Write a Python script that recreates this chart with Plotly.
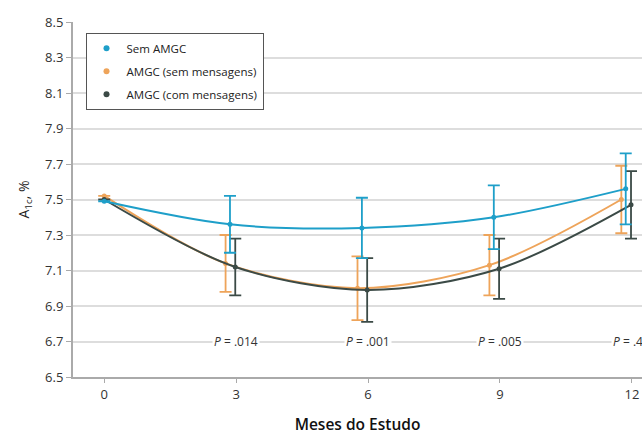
import plotly.graph_objects as go

months = [0, 3, 6, 9, 12]
series_names = ["Sem AMGC", "AMGC (sem mensagens)", "AMGC (com mensagens)"]
sem_amgc = [7.49, 7.36, 7.34, 7.40, 7.56]
sem_amgc_err = [0.0, 0.16, 0.17, 0.18, 0.20]
amgc_sem_msg = [7.52, 7.14, 7.00, 7.13, 7.50]
amgc_sem_msg_err = [0.0, 0.16, 0.18, 0.17, 0.19]
amgc_com_msg = [7.50, 7.12, 6.99, 7.11, 7.47]
amgc_com_msg_err = [0.0, 0.16, 0.18, 0.17, 0.19]
p_labels = [".014", ".001", ".005", ".48"]
p_months = [3, 6, 9, 12]
y_ticks = [6.5, 6.7, 6.9, 7.1, 7.3, 7.5, 7.7, 7.9, 8.1, 8.3, 8.5]

colors = ["#1e9fc9", "#eea45a", "#3b4a46"]
offsets = [-0.14, -0.24, -0.02]

fig = go.Figure()
data = [(sem_amgc, sem_amgc_err), (amgc_sem_msg, amgc_sem_msg_err), (amgc_com_msg, amgc_com_msg_err)]
order = [1, 2, 0]
for i in order:
    vals, errs = data[i]
    xs = [m + (offsets[i] if m > 0 else 0) for m in months]
    fig.add_trace(go.Scatter(
        x=xs, y=vals, mode="lines+markers", line=dict(color=colors[i], width=2, shape="spline", smoothing=0.9),
        marker=dict(size=5, color=colors[i]),
        error_y=dict(type="data", array=errs, visible=True, color=colors[i], thickness=1.8, width=6),
        showlegend=False, hoverinfo="skip"))
for i in range(3):
    fig.add_trace(go.Scatter(x=[None], y=[None], mode="markers", name=series_names[i],
                             legendgroup="g%d" % i,
                             marker=dict(size=6, color=colors[i])))

for m, p in zip(p_months, p_labels):
    fig.add_annotation(x=m, y=6.7, text="<i>P</i> = " + p, showarrow=False,
                       font=dict(size=12, color="#333333", family="Open Sans"), bgcolor="white")

fig.update_layout(
    width=642, height=436,
    margin=dict(l=73, r=0, t=22, b=59),
    plot_bgcolor="white", paper_bgcolor="white",
    font=dict(family="Open Sans", color="#333333"),
    legend=dict(x=0.022, y=0.97, xanchor="left", yanchor="top", bordercolor="#555555", borderwidth=1,
                font=dict(size=11.5, color="#222222"), bgcolor="white", itemwidth=30, tracegroupgap=4),
    xaxis=dict(range=[-0.71, 12.23], tickvals=months, ticks="outside", ticklen=4, tickcolor="#aaaaaa",
               showgrid=False, showline=True, linecolor="#aaaaaa", linewidth=2, zeroline=False,
               tickfont=dict(size=13, color="#333333"),
               title=dict(text="Meses do Estudo", font=dict(size=15.5, color="#111111", weight=600), standoff=18)),
    yaxis=dict(range=[6.5, 8.5], tickvals=y_ticks, tickformat=".1f", ticks="outside", ticklen=5,
               tickcolor="#aaaaaa", showgrid=True, gridcolor="#dddddd", gridwidth=1.5,
               showline=True, linecolor="#aaaaaa", linewidth=2, zeroline=False,
               tickfont=dict(size=13, color="#333333"),
               title=dict(text="A<sub>1c</sub>, %", font=dict(size=14, color="#222222"), standoff=12)),
)

fig.write_html("out.html", config={"displayModeBar": False},
               post_script="document.body.style.margin='0';document.body.style.overflow='hidden';")
